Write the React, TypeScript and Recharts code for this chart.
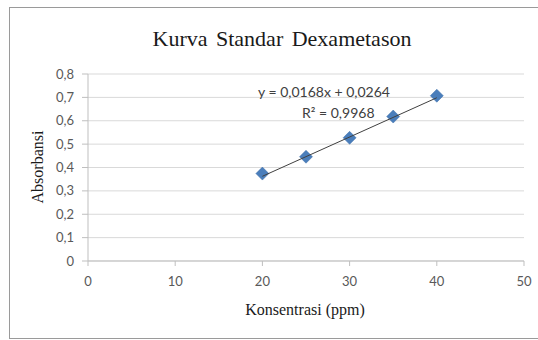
import { ScatterChart, Scatter, XAxis, YAxis, CartesianGrid, Label } from "recharts";

const konsentrasi = [20, 25, 30, 35, 40];
const absorbansi = [0.374, 0.446, 0.527, 0.618, 0.707];
// trendline y = 0,0168x + 0,0264 at its two ends
const trendX = [20, 40];
const trendY = [0.3624, 0.6984];
const xTicks = [0, 10, 20, 30, 40, 50];
const yTicks = [0, 0.1, 0.2, 0.3, 0.4, 0.5, 0.6, 0.7, 0.8];

const points = konsentrasi.map((x, i) => ({ x, y: absorbansi[i] }));
const trend = trendX.map((x, i) => ({ x, y: trendY[i] }));

const tickStyle = { fontFamily: "Lato, sans-serif", fontSize: 13, fill: "#595959" };
const comma = (v: number) => String(v).replace(".", ",");

const Diamond = (props: any) => {
  const { cx, cy } = props;
  const r = 6.5;
  return (
    <polygon
      points={`${cx},${cy - r} ${cx + r},${cy} ${cx},${cy + r} ${cx - r},${cy}`}
      fill="#4a7ebb"
      stroke="#3f6fa8"
      strokeWidth={0.5}
    />
  );
};

export default function App() {
  return (
    <div
      style={{
        position: "absolute",
        left: 9,
        top: 7,
        width: 540,
        height: 330,
        border: "1px solid #9a9a9a",
        background: "#fff",
        overflow: "hidden",
      }}
    >
      <div
        style={{
          position: "absolute",
          left: 0,
          width: 544,
          top: 18,
          textAlign: "center",
          fontFamily: "'Liberation Serif', serif",
          fontSize: 22,
          wordSpacing: 3,
          color: "#1a1a1a",
        }}
      >
        Kurva Standar Dexametason
      </div>
      <ScatterChart width={528} height={328} margin={{ top: 66, right: 14, left: 18, bottom: 45 }}>
        <CartesianGrid vertical={false} stroke="#d9d9d9" />
        <XAxis
          type="number"
          dataKey="x"
          domain={[0, 50]}
          ticks={xTicks}
          height={30}
          tick={tickStyle}
          tickSize={5}
          tickMargin={11}
          stroke="#bfbfbf"
        >
          <Label
            content={() => (
              <text
                x={295}
                y={307}
                textAnchor="middle"
                fontFamily="'Liberation Serif', serif"
                fontSize={16}
                fill="#1a1a1a"
              >
                Konsentrasi (ppm)
              </text>
            )}
          />
        </XAxis>
        <YAxis
          type="number"
          dataKey="y"
          domain={[0, 0.8]}
          ticks={yTicks}
          width={60}
          tick={tickStyle}
          tickFormatter={comma}
          tickSize={6}
          tickMargin={8}
          stroke="#bfbfbf"
        >
          <Label
            content={() => (
              <text
                x={33}
                y={159}
                textAnchor="middle"
                transform="rotate(-90 33 159)"
                fontFamily="'Liberation Serif', serif"
                fontSize={16}
                fill="#1a1a1a"
              >
                Absorbansi
              </text>
            )}
          />
        </YAxis>
        <Scatter data={points} shape={<Diamond />} isAnimationActive={false} />
        <Scatter
          data={trend}
          line={{ stroke: "#404040", strokeWidth: 1 }}
          shape={() => null}
          isAnimationActive={false}
        />
      </ScatterChart>
      <div
        style={{
          position: "absolute",
          left: 248,
          top: 75,
          fontFamily: "Lato, sans-serif",
          fontSize: 14,
          lineHeight: "17px",
          color: "#404040",
          whiteSpace: "nowrap",
        }}
      >
        y = 0,0168x + 0,0264
      </div>
      <div
        style={{
          position: "absolute",
          left: 292,
          top: 96,
          fontFamily: "Lato, sans-serif",
          fontSize: 14,
          lineHeight: "17px",
          color: "#404040",
          whiteSpace: "nowrap",
        }}
      >
        R² = 0,9968
      </div>
    </div>
  );
}
